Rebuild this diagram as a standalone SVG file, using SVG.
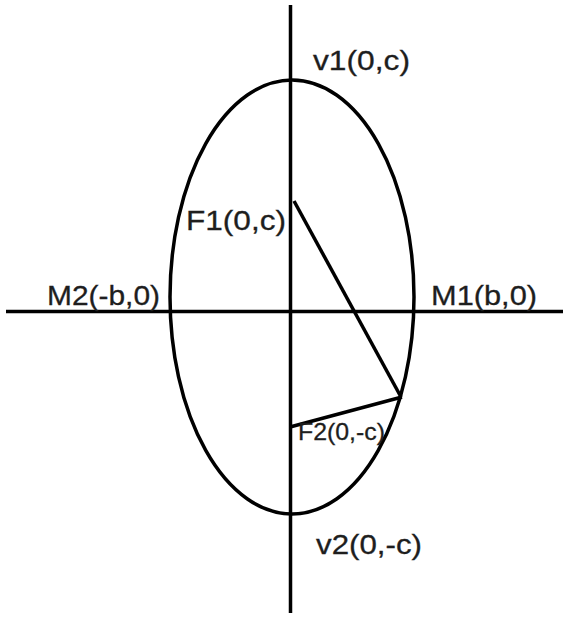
<svg xmlns="http://www.w3.org/2000/svg" width="563" height="619" viewBox="0 0 563 619">
<style>
.ln{stroke:#000;stroke-width:3.5;fill:none;stroke-linecap:butt}
.el{stroke:#000;stroke-width:3.5;fill:none}
.t{font-family:"Liberation Sans",Arial,sans-serif;font-size:28px;fill:#1e1e1e;stroke:#1e1e1e;stroke-width:0.3}
.s{font-size:24px}
</style>
<rect width="563" height="619" fill="#fff"/>
<g id="ellipse"><ellipse class="el" cx="292" cy="297" rx="122" ry="217"/></g>
<g id="axes">
<line class="ln" x1="290.5" y1="5" x2="290.5" y2="613"/>
<line class="ln" x1="6" y1="311.5" x2="563" y2="311.5"/>
</g>
<g id="connectors">
<line class="ln" x1="294" y1="201" x2="401" y2="397"/>
<line class="ln" x1="290" y1="427" x2="402" y2="397"/>
</g>
<g id="v1"><text class="t" x="313" y="70" textLength="97" lengthAdjust="spacingAndGlyphs">v1(0,c)</text></g>
<g id="F1"><text class="t" x="186" y="230" textLength="100" lengthAdjust="spacingAndGlyphs">F1(0,c)</text></g>
<g id="M2"><text class="t" x="47" y="305" textLength="113" lengthAdjust="spacingAndGlyphs">M2(-b,0)</text></g>
<g id="M1"><text class="t" x="431" y="305" textLength="106" lengthAdjust="spacingAndGlyphs">M1(b,0)</text></g>
<g id="F2"><text class="t s" x="298" y="440" textLength="87" lengthAdjust="spacingAndGlyphs">F2(0,-c)</text></g>
<g id="v2"><text class="t" x="316" y="554" textLength="106" lengthAdjust="spacingAndGlyphs">v2(0,-c)</text></g>
</svg>
